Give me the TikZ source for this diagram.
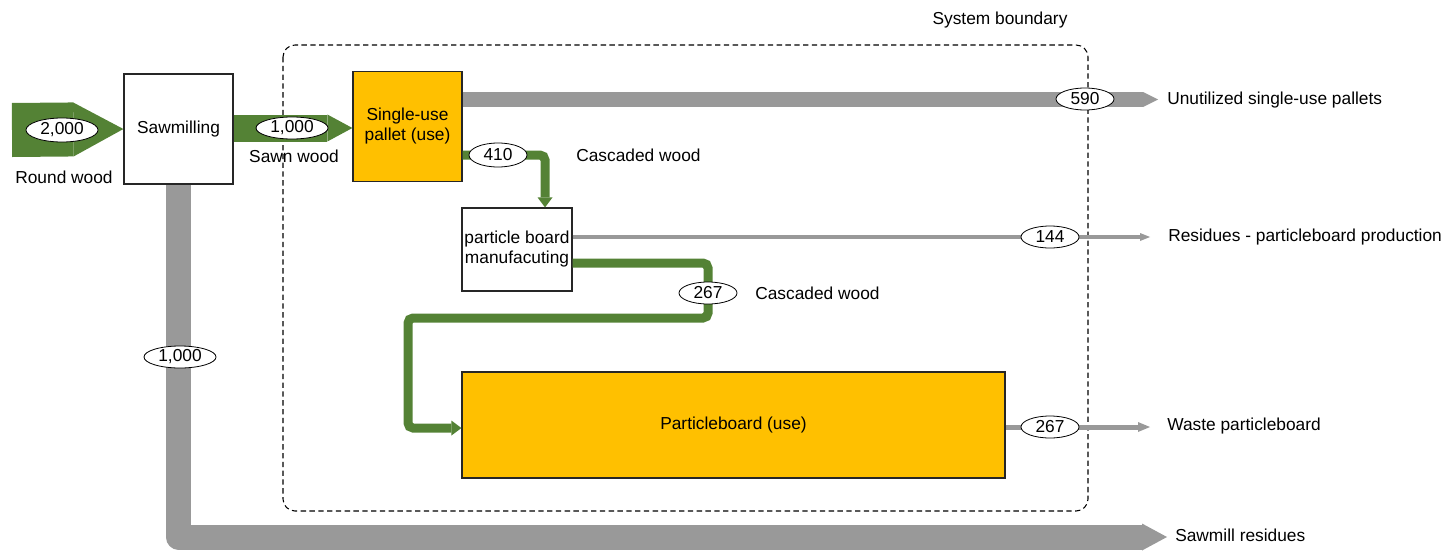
\documentclass[tikz,border=0pt]{standalone}
\usepackage{fontspec}
\setmainfont{Liberation Sans}
\usetikzlibrary{arrows.meta,shapes.geometric}
\definecolor{flowgreen}{RGB}{84,130,53}
\definecolor{flowgray}{RGB}{153,153,153}
\definecolor{useorange}{RGB}{255,192,0}
\begin{document}
\begin{tikzpicture}[x=0.75pt,y=-0.75pt,
  font=\fontsize{13}{15}\selectfont,
  procbox/.style={draw=black!85, line width=0.9pt, fill=white, align=center, inner sep=0pt},
  usebox/.style={procbox, fill=useorange},
  amount/.style={ellipse, draw=black, line width=0.6pt, fill=white, inner sep=0pt,
    minimum width=43.5pt, minimum height=16.5pt},
  flowlabel/.style={anchor=west, inner sep=0pt},
  greenflow/.style={draw=flowgreen, line width=6.75pt, rounded corners=3.75pt,
    -{Triangle[length=7.5pt,width=11.25pt,line width=0pt]}},
  grayflow/.style={draw=flowgray}]
\useasboundingbox (0,0) rectangle (1451,550);

% system boundary
\draw[line width=0.8pt, dash pattern=on 4pt off 2.6pt, rounded corners=9pt]
  (283,45) rectangle (1088,511);
\node at (1000,20) {System boundary};

% processes
\node[procbox, minimum width=81.75pt, minimum height=82.5pt] (saw) at (178.5,129) {Sawmilling};
\node[usebox, minimum width=81.75pt, minimum height=82.5pt] (pallet) at (407.5,126.5) {Single-use\\pallet (use)};
\node[procbox, minimum width=82.5pt, minimum height=62.25pt] (pbm) at (517,249.5) {particle board\\manufacuting};
\node[usebox, minimum width=407.25pt, minimum height=79.5pt] (pboard) at (733.5,425) {Particleboard (use)};

% helper levels and free ends
\coordinate (rwin) at (12,130);
\coordinate (l128) at (0,128);
\coordinate (l99) at (0,99.5);
\coordinate (l155) at (0,155);
\coordinate (l237) at (0,237);
\coordinate (l263) at (0,263);
\coordinate (l427) at (0,427);
\coordinate (c410) at (545,155);
\coordinate (out590) at (1158,99.5);
\coordinate (out144) at (1150,237);
\coordinate (outwaste) at (1150,427);
\coordinate (outres) at (1167,537);

% flows
\draw[draw=flowgreen, line width=40.5pt,
  -{Triangle[length=37.5pt,width=40.5pt,line width=0pt]}] (rwin) -- (saw.west);
\draw[draw=flowgreen, line width=20.25pt,
  -{Triangle[length=18.75pt,width=20.25pt,line width=0pt]}] (saw.east |- l128) -- (pallet.west |- l128);
\draw[grayflow, line width=11.25pt,
  -{Triangle[length=11.25pt,width=11.25pt,line width=0pt]}] (pallet.east |- l99) -- (out590);
\draw[greenflow] (pallet.east |- l155) -- (c410) -- (c410 |- pbm.north);
\draw[grayflow, line width=2.6pt,
  -{Triangle[length=7.5pt,width=6pt,line width=0pt]}] (pbm.east |- l237) -- (out144);
\draw[greenflow] (pbm.east |- l263) -- (708,263) -- (708,318) -- (408,318) -- (408,428) -- (pboard.west |- 0,428);
\draw[grayflow, line width=3.75pt,
  -{Triangle[length=9pt,width=7.5pt,line width=0pt]}] (pboard.east |- l427) -- (outwaste);
\draw[grayflow, line width=18.75pt, line join=round,
  -{Triangle[length=18.75pt,width=20.25pt,line width=0pt]}] (saw.south) |- (outres);

% amounts
\node[amount, minimum width=54pt, minimum height=18pt] (a2000) at (62,130) {2,000};
\node[amount, minimum width=54pt] (a1000s) at (292,128) {1,000};
\node[amount] (a590) at (1085,99) {590};
\node[amount, minimum height=18pt] (a410) at (498,155) {410};
\node[amount] (a144) at (1050,237) {144};
\node[amount] (a267c) at (708,293) {267};
\node[amount] (a267w) at (1050,427) {267};
\node[amount, minimum width=54pt] (a1000r) at (180,357) {1,000};

% flow names
\node (nround) at (64,177) {Round wood};
\node (nsawn) at (294,156) {Sawn wood};
\node[flowlabel] (ncasc1) at (576,155) {Cascaded wood};
\node[flowlabel] (ncasc2) at (755,293) {Cascaded wood};
\node[flowlabel] (nunused) at (1167,100) {Unutilized single-use pallets};
\node[flowlabel] (nres) at (1168,237) {Residues - particleboard production};
\node[flowlabel] (nwaste) at (1167,426) {Waste particleboard};
\node[flowlabel] (nsawres) at (1175,535) {Sawmill residues};
\end{tikzpicture}
\end{document}
